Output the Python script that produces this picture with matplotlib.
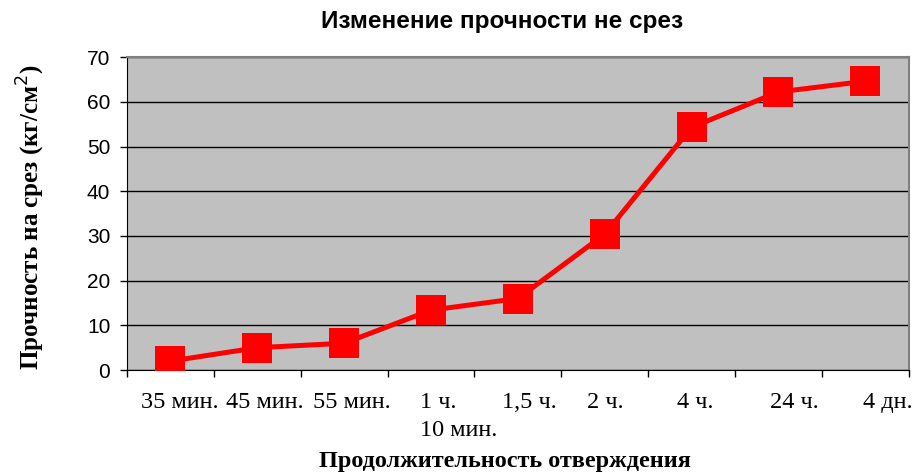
import matplotlib.pyplot as plt
import matplotlib.transforms as mtransforms

# data
categories = ['35 мин.', '45 мин.', '55 мин.', '1 ч.\n10 мин.', '1,5 ч.',
              '2 ч.', '4 ч.', '24 ч.', '4 дн.']
strength = [2, 5, 6, 13.4, 16, 30.4, 54.3, 62.2, 64.6]
y_ticks = [0, 10, 20, 30, 40, 50, 60, 70]

# the source chart does not center its category labels exactly (pixels)
label_shift = [9, 8, 8, 28, 11, 1, 4, 16, 22]

fig = plt.figure(figsize=(9.23, 4.72), dpi=100)
ax = fig.add_axes([0.1376, 0.216, 0.847, 0.663])
ax.set_facecolor('#c0c0c0')

x = list(range(len(categories)))
ax.plot(x, strength, color='#ff0000', lw=3.6, marker='s', ms=21,
        markeredgewidth=0, zorder=3)

ax.set_xlim(-0.5, len(categories) - 0.5)
ax.set_ylim(0, 70)
ax.set_yticks(y_ticks)
ax.yaxis.grid(True, color='black', lw=1)
ax.set_axisbelow(True)

# category boundaries carry the ticks, labels sit between them
ax.set_xticks([i - 0.5 for i in range(len(categories) + 1)])
ax.set_xticklabels([])
ax.set_xticks(x, minor=True)
ax.set_xticklabels(categories, minor=True, family='Liberation Serif',
                   fontsize=17.5, linespacing=1.45)
ax.tick_params(axis='x', which='major', direction='out', length=5, width=1)
ax.tick_params(axis='x', which='minor', length=0, pad=16)
ax.tick_params(axis='y', direction='out', length=5, width=1, pad=7)
for lbl in ax.get_yticklabels():
    lbl.set_family('Liberation Sans')
    lbl.set_fontsize(15)

for lbl, dx in zip(ax.xaxis.get_minorticklabels(), label_shift):
    lbl.set_multialignment('left')
    lbl.set_transform(lbl.get_transform() +
                      mtransforms.ScaledTranslation(dx / 100, 0, fig.dpi_scale_trans))

ax.spines['left'].set_color('black')
ax.spines['bottom'].set_color('black')
ax.spines['top'].set_color('#808080')
ax.spines['right'].set_color('#808080')
ax.spines['top'].set_linewidth(1.5)
ax.spines['right'].set_linewidth(1.5)

ax.set_title('Изменение прочности не срез', family='Liberation Sans',
             fontweight='bold', fontsize=17.5, pad=21, x=0.480)
ax.set_ylabel('Прочность на срез (кг/см$^2$)', family='Liberation Serif',
              fontweight='bold', fontsize=18)
ax.yaxis.label.set_va('center')
ax.yaxis.set_label_coords(-0.1228, 0.49)
ax.set_xlabel('Продолжительность отверждения', family='Liberation Serif',
              fontweight='bold', fontsize=17.5)
ax.xaxis.set_label_coords(0.483, -0.291)
ax.xaxis.label.set_va('center')

fig.savefig('out.png', dpi=100)
